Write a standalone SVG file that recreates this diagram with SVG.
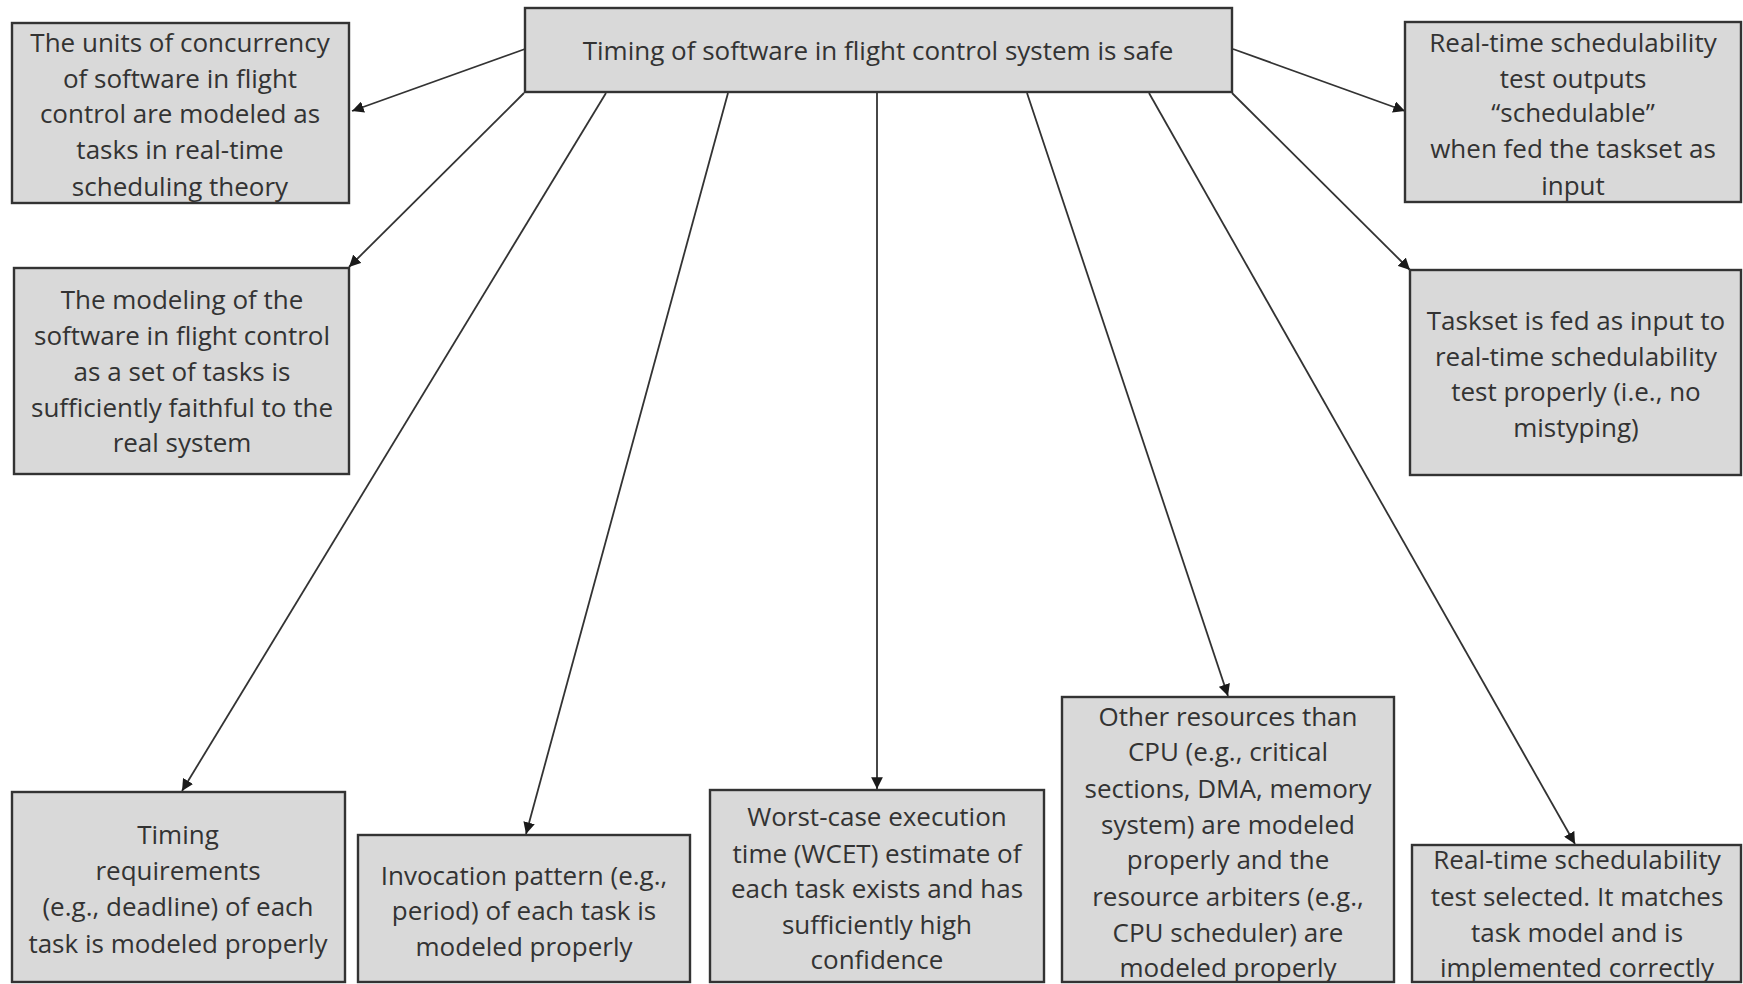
<svg xmlns="http://www.w3.org/2000/svg" width="1743" height="984" viewBox="0 0 1743 984">
<defs>
<style>
.box{fill:#d9d9d9;stroke:#333333;stroke-width:2.4}
.t{font-family:"Open Sans","Liberation Sans",sans-serif;font-size:26px;fill:#333333;text-anchor:middle;dominant-baseline:central}
.c{stroke:#333333;stroke-width:1.8;fill:none;marker-end:url(#ah)}
</style>
<marker id="ah" viewBox="0 0 10 10" refX="10" refY="5" markerWidth="6.5" markerHeight="6.5" orient="auto" markerUnits="strokeWidth">
<path d="M0,0 L10,5 L0,10 z" fill="#1a1a1a"/>
</marker>
</defs>
<rect width="1743" height="984" fill="#ffffff"/>
<g id="connectors">
<line class="c" x1="525" y1="49" x2="352" y2="111"/>
<line class="c" x1="524" y1="93" x2="349" y2="267"/>
<line class="c" x1="606" y1="93" x2="182" y2="791"/>
<line class="c" x1="728" y1="93" x2="526" y2="834"/>
<line class="c" x1="877" y1="93" x2="877" y2="789"/>
<line class="c" x1="1027" y1="93" x2="1228" y2="696"/>
<line class="c" x1="1149" y1="93" x2="1575" y2="844"/>
<line class="c" x1="1232" y1="93" x2="1410" y2="270"/>
<line class="c" x1="1233" y1="49" x2="1405" y2="111"/>
</g>
<g id="root">
<rect class="box" x="525" y="8" width="707" height="84"/>
<text class="t" x="878" y="50">Timing of software in flight control system is safe</text>
</g>
<g id="units">
<rect class="box" x="12" y="23" width="337" height="180"/>
<text class="t" x="180" y="42">The units of concurrency</text>
<text class="t" x="180" y="78">of software in flight</text>
<text class="t" x="180" y="113">control are modeled as</text>
<text class="t" x="180" y="149">tasks in real-time</text>
<text class="t" x="180" y="186">scheduling theory</text>
</g>
<g id="modeling">
<rect class="box" x="14" y="268" width="335" height="206"/>
<text class="t" x="182" y="299">The modeling of the</text>
<text class="t" x="182" y="335">software in flight control</text>
<text class="t" x="182" y="371">as a set of tasks is</text>
<text class="t" x="182" y="407">sufficiently faithful to the</text>
<text class="t" x="182" y="442">real system</text>
</g>
<g id="outputs">
<rect class="box" x="1405" y="22" width="336" height="180"/>
<text class="t" x="1573" y="42">Real-time schedulability</text>
<text class="t" x="1573" y="78">test outputs</text>
<text class="t" x="1573" y="112">“schedulable”</text>
<text class="t" x="1573" y="148">when fed the taskset as</text>
<text class="t" x="1573" y="185">input</text>
</g>
<g id="taskset">
<rect class="box" x="1410" y="270" width="331" height="205"/>
<text class="t" x="1576" y="320">Taskset is fed as input to</text>
<text class="t" x="1576" y="356">real-time schedulability</text>
<text class="t" x="1576" y="391">test properly (i.e., no</text>
<text class="t" x="1576" y="427">mistyping)</text>
</g>
<g id="timing">
<rect class="box" x="12" y="792" width="333" height="190"/>
<text class="t" x="178" y="834">Timing</text>
<text class="t" x="178" y="870">requirements</text>
<text class="t" x="178" y="906">(e.g., deadline) of each</text>
<text class="t" x="178" y="943">task is modeled properly</text>
</g>
<g id="invocation">
<rect class="box" x="358" y="835" width="332" height="147"/>
<text class="t" x="524" y="875">Invocation pattern (e.g.,</text>
<text class="t" x="524" y="910">period) of each task is</text>
<text class="t" x="524" y="946">modeled properly</text>
</g>
<g id="wcet">
<rect class="box" x="710" y="790" width="334" height="192"/>
<text class="t" x="877" y="816">Worst-case execution</text>
<text class="t" x="877" y="853">time (WCET) estimate of</text>
<text class="t" x="877" y="888">each task exists and has</text>
<text class="t" x="877" y="924">sufficiently high</text>
<text class="t" x="877" y="959">confidence</text>
</g>
<g id="resources">
<rect class="box" x="1062" y="697" width="332" height="285"/>
<text class="t" x="1228" y="716">Other resources than</text>
<text class="t" x="1228" y="751">CPU (e.g., critical</text>
<text class="t" x="1228" y="788">sections, DMA, memory</text>
<text class="t" x="1228" y="824">system) are modeled</text>
<text class="t" x="1228" y="859">properly and the</text>
<text class="t" x="1228" y="896">resource arbiters (e.g.,</text>
<text class="t" x="1228" y="932">CPU scheduler) are</text>
<text class="t" x="1228" y="967">modeled properly</text>
</g>
<g id="selected">
<rect class="box" x="1412" y="845" width="329" height="137"/>
<text class="t" x="1577" y="859">Real-time schedulability</text>
<text class="t" x="1577" y="896">test selected. It matches</text>
<text class="t" x="1577" y="932">task model and is</text>
<text class="t" x="1577" y="967">implemented correctly</text>
</g>
</svg>
